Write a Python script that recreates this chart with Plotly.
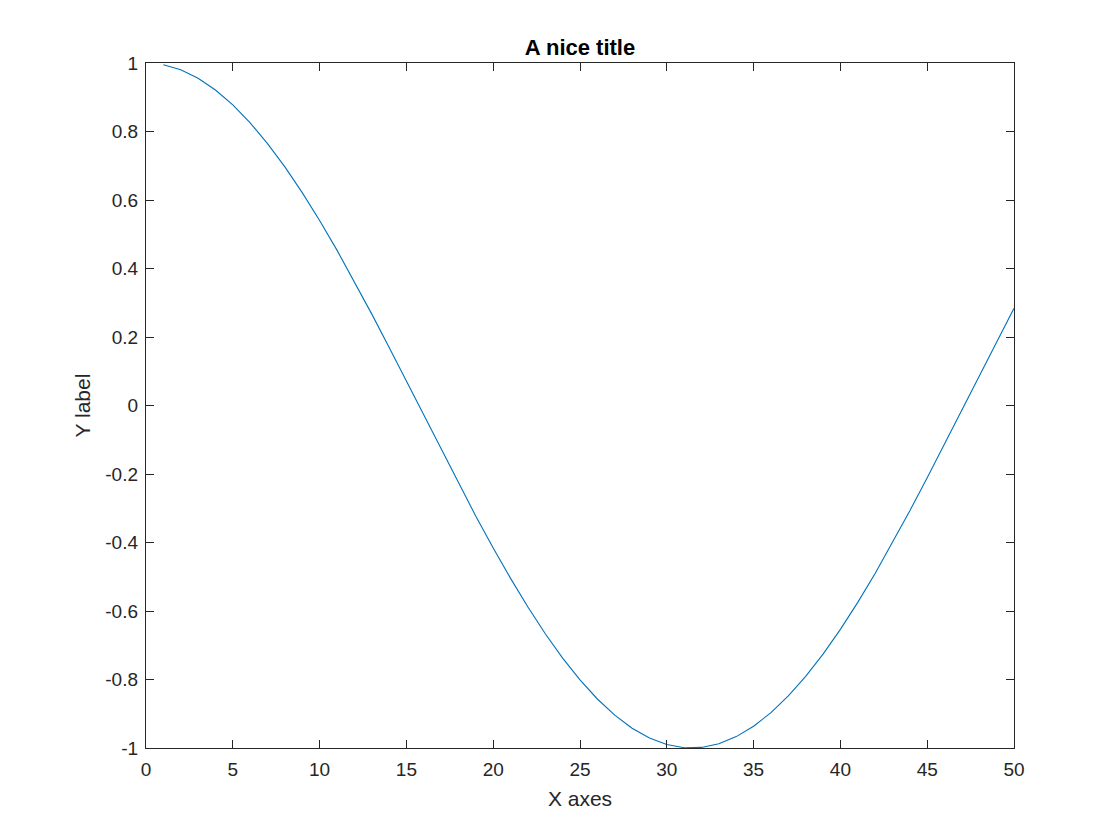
import plotly.graph_objects as go

x_vals = list(range(1, 51))
y_vals = [0.9950, 0.9801, 0.9553, 0.9211, 0.8776, 0.8253, 0.7648, 0.6967, 0.6216, 0.5403,
          0.4536, 0.3624, 0.2675, 0.1700, 0.0707, -0.0292, -0.1288, -0.2272, -0.3233, -0.4161,
          -0.5048, -0.5885, -0.6663, -0.7374, -0.8011, -0.8569, -0.9041, -0.9422, -0.9710, -0.9900,
          -0.9991, -0.9983, -0.9875, -0.9668, -0.9365, -0.8968, -0.8481, -0.7910, -0.7259, -0.6536,
          -0.5748, -0.4903, -0.4008, -0.3073, -0.2108, -0.1122, -0.0124, 0.0875, 0.1865, 0.2837]

x_ticks = [0, 5, 10, 15, 20, 25, 30, 35, 40, 45, 50]
y_ticks = [-1, -0.8, -0.6, -0.4, -0.2, 0, 0.2, 0.4, 0.6, 0.8, 1]
y_tick_text = ["-1", "-0.8", "-0.6", "-0.4", "-0.2", "0", "0.2", "0.4", "0.6", "0.8", "1"]

title_text = "A nice title"
x_title = "X axes"
y_title = "Y label"

axis_color = "#262626"
font_family = "Liberation Sans, Arial, Helvetica, sans-serif"

fig = go.Figure()
fig.add_trace(go.Scatter(x=x_vals, y=y_vals, mode="lines",
                         line=dict(color="#0072BD", width=1.1), showlegend=False))

common = dict(showgrid=False, zeroline=False, showline=True, linecolor=axis_color,
              linewidth=1.3, ticks="inside", ticklen=8, tickcolor=axis_color, tickwidth=1.3,
              mirror="ticks", tickfont=dict(family=font_family, size=19, color=axis_color))

fig.update_xaxes(range=[0, 50], tickmode="array", tickvals=x_ticks, ticklabelstandoff=4,
                 title=dict(text=x_title, font=dict(family=font_family, size=21, color=axis_color), standoff=12),
                 **common)
fig.update_yaxes(range=[-1, 1], tickmode="array", tickvals=y_ticks, ticktext=y_tick_text,
                 ticklabelstandoff=3,
                 title=dict(text=y_title, font=dict(family=font_family, size=21, color=axis_color), standoff=8),
                 **common)

fig.update_layout(
    width=1120, height=840,
    margin=dict(l=138, r=114, t=55, b=100),
    paper_bgcolor="white", plot_bgcolor="white",
    title=dict(text="<b>" + title_text + "</b>", x=(138 + 868 / 2) / 1120, xanchor="center",
               xref="container",
               y=1 - 39 / 840, yanchor="middle",
               font=dict(family=font_family, size=22, color="black")),
)

fig.write_html("out.html")
